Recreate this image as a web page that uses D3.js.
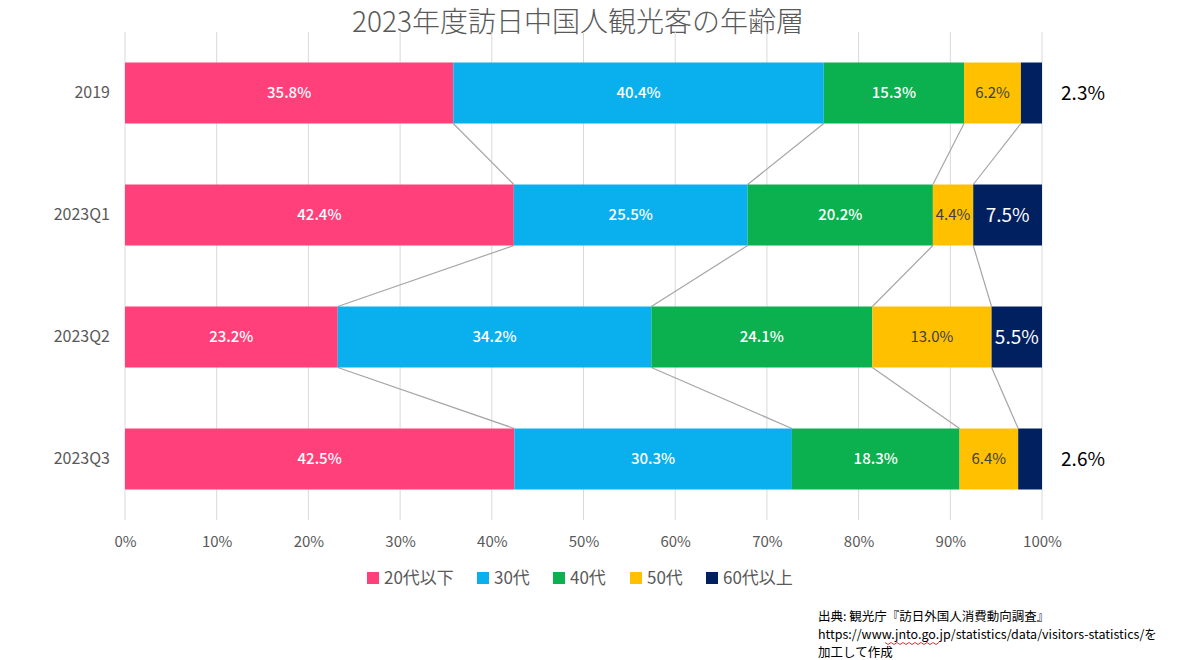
<!DOCTYPE html>
<html>
<head>
<meta charset="utf-8">
<script src="https://cdn.jsdelivr.net/npm/d3@7"></script>
<style>
  body { margin: 0; background: #fff; }
  text { font-family: "Noto Sans CJK JP", "Noto Sans", sans-serif; }
</style>
</head>
<body>
<div id="chart"></div>
<script>
// Categories (rows) and age-group series
const categories = ["2019", "2023Q1", "2023Q2", "2023Q3"];
const seriesNames = ["20代以下", "30代", "40代", "50代", "60代以上"];
const seriesColors = ["#ff407a", "#0ab0ee", "#0bb04f", "#ffc000", "#002060"];

// Share (%) per row, one array per age group
const age20 = [35.8, 42.4, 23.2, 42.5];
const age30 = [40.4, 25.5, 34.2, 30.3];
const age40 = [15.3, 20.2, 24.1, 18.3];
const age50 = [6.2, 4.4, 13.0, 6.4];
const age60 = [2.3, 7.5, 5.5, 2.6];

const xTicks = [0, 0.1, 0.2, 0.3, 0.4, 0.5, 0.6, 0.7, 0.8, 0.9, 1.0];

const title = "2023年度訪日中国人観光客の年齢層";
const sourceLines = [
    "出典: 観光庁『訪日外国人消費動向調査』",
    "https://www.jnto.go.jp/statistics/data/visitors-statistics/を",
    "加工して作成"
];

const seriesValues = [age20, age30, age40, age50, age60];
const table = categories.map((c, i) => {
    const row = { cat: c };
    seriesNames.forEach((s, j) => row[s] = seriesValues[j][i]);
    return row;
});

const width = 1200, height = 660;
const margin = { top: 32, right: 158, bottom: 140, left: 125 };
const innerW = width - margin.left - margin.right;
const innerH = height - margin.top - margin.bottom;

const svg = d3.select("#chart")
    .append("svg")
    .attr("width", width)
    .attr("height", height);

// Title
svg.append("text")
    .attr("x", 578)
    .attr("y", 32)
    .attr("text-anchor", "middle")
    .attr("font-size", 28)
    .attr("font-weight", 300)
    .attr("fill", "#595959")
    .text(title);

const g = svg.append("g")
    .attr("transform", "translate(" + margin.left + "," + margin.top + ")");

const x = d3.scaleLinear().domain([0, 1]).range([0, innerW]);
const y = d3.scaleBand().domain(categories).range([0, innerH]).paddingInner(0.5).paddingOuter(0.25);

// Gridlines
g.selectAll(".grid")
    .data(xTicks)
    .join("line")
    .attr("x1", d => x(d))
    .attr("x2", d => x(d))
    .attr("y1", 0)
    .attr("y2", innerH)
    .attr("stroke", "#d9d9d9")
    .attr("stroke-width", 1);

const stack = d3.stack().keys(seriesNames).offset(d3.stackOffsetExpand);
const stacked = stack(table);

// Series lines between bars
stacked.forEach((layer, li) => {
    if (li === stacked.length - 1) return;
    for (let i = 0; i < categories.length - 1; i++) {
        g.append("line")
            .attr("x1", x(layer[i][1]))
            .attr("y1", y(categories[i]) + y.bandwidth())
            .attr("x2", x(layer[i + 1][1]))
            .attr("y2", y(categories[i + 1]))
            .attr("stroke", "#a6a6a6")
            .attr("stroke-width", 1.2);
    }
});

// Bars
const layers = g.selectAll(".layer")
    .data(stacked)
    .join("g")
    .attr("fill", (d, i) => seriesColors[i]);

layers.selectAll("rect")
    .data(d => d)
    .join("rect")
    .attr("x", d => x(d[0]))
    .attr("y", d => y(d.data.cat))
    .attr("width", d => x(d[1]) - x(d[0]))
    .attr("height", y.bandwidth());

// Labels
stacked.forEach((layer, li) => {
    layer.forEach((d, i) => {
        const v = seriesValues[li][i];
        const cy = y(d.data.cat) + y.bandwidth() / 2;
        let tx = (x(d[0]) + x(d[1])) / 2;
        let fill = "#fff", size = 15, weight = 500;
        if (li === 3) { fill = "#404040"; weight = 400; }
        if (li === 4) {
            size = 19; weight = 400;
            if (v < 4) { tx = innerW + 41; fill = "#000"; }
        }
        g.append("text")
            .attr("x", tx)
            .attr("y", cy)
            .attr("dy", "0.35em")
            .attr("text-anchor", "middle")
            .attr("font-size", size)
            .attr("font-weight", weight)
            .attr("fill", fill)
            .text(v.toFixed(1) + "%");
    });
});

// Axes
const xAxis = g.append("g")
    .attr("transform", "translate(0," + innerH + ")")
    .call(d3.axisBottom(x).tickValues(xTicks).tickFormat(d3.format(".0%")).tickSize(0).tickPadding(16));
xAxis.select(".domain").remove();
xAxis.selectAll("text")
    .attr("font-size", 15)
    .attr("fill", "#595959")
    .style("font-family", "'Noto Sans CJK JP', sans-serif");

const yAxis = g.append("g")
    .call(d3.axisLeft(y).tickSize(0).tickPadding(15));
yAxis.select(".domain").remove();
yAxis.selectAll("text")
    .attr("font-size", 16)
    .attr("fill", "#595959")
    .style("font-family", "'Noto Sans CJK JP', sans-serif");

// Legend
const legendX = [367, 477, 553, 630, 706];
const legend = svg.append("g");
seriesNames.forEach((s, i) => {
    legend.append("rect")
        .attr("x", legendX[i])
        .attr("y", 572)
        .attr("width", 12)
        .attr("height", 12)
        .attr("fill", seriesColors[i]);
    legend.append("text")
        .attr("x", legendX[i] + 17)
        .attr("y", 578)
        .attr("dy", "0.36em")
        .attr("font-size", 17)
        .attr("fill", "#595959")
        .text(s);
});

// Source note
sourceLines.forEach((t, i) => {
    svg.append("text")
        .attr("x", 818)
        .attr("y", 621 + i * 18)
        .attr("font-size", 12.5)
        .attr("fill", "#000")
        .text(t);
});
// red squiggle under the url domain (spell-check mark in the original)
const sq = d3.range(0, 56, 3).map((d, i) => [885 + d, 643 + (i % 2 ? 1.5 : -0.5)]);
svg.append("path")
    .attr("d", d3.line()(sq))
    .attr("fill", "none")
    .attr("stroke", "#e02020")
    .attr("stroke-width", 0.9);
</script>
</body>
</html>
